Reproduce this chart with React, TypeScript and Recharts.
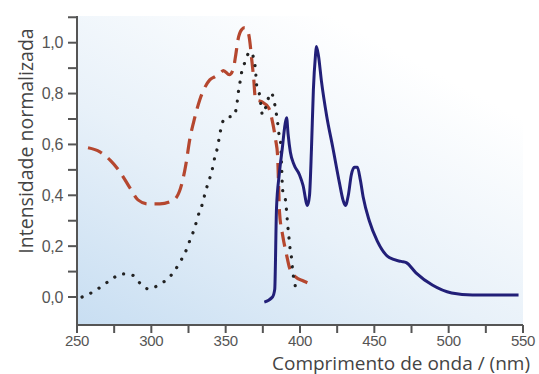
import { LineChart, Line, XAxis, YAxis, ReferenceArea } from "recharts";

// absorção (tracejado vermelho)
const absNm = [257.4, 265.4, 272.1, 278.9, 285.6, 291, 297.7, 305.7, 312.4, 317.1, 320.5, 323.2, 325.8, 329.2, 332.6, 335.9, 339.3, 342.6, 346, 348.5, 352.5, 355, 356.8, 358.3, 360.7, 362.8, 364.8, 366.1, 367.4, 368.8, 370.1, 374.2, 378.9, 381.5, 383.6, 384.9, 385.6, 386.2, 388.3, 391, 393, 397, 402.3, 407];
const absVal = [0.587, 0.571, 0.539, 0.492, 0.429, 0.382, 0.366, 0.366, 0.374, 0.394, 0.445, 0.52, 0.618, 0.705, 0.776, 0.823, 0.854, 0.866, 0.878, 0.89, 0.874, 0.894, 0.953, 1.012, 1.051, 1.059, 1.047, 1.012, 0.941, 0.862, 0.776, 0.768, 0.744, 0.689, 0.618, 0.559, 0.441, 0.335, 0.244, 0.165, 0.114, 0.079, 0.063, 0.051];

// excitação (pontilhado preto)
const excNm = [253.4, 260.7, 266.8, 273.5, 280.2, 286.9, 292.3, 298.3, 305.7, 311.7, 316.4, 320.5, 323.8, 326.5, 329.2, 331.2, 333.9, 335.9, 338, 340.6, 342.6, 344.6, 346, 348, 351.3, 354.7, 357.4, 358.1, 359.4, 360.7, 362.8, 364.8, 366.1, 368.8, 370.1, 370.8, 372.8, 374.8, 377.5, 380.2, 382.2, 383.6, 384.9, 385.6, 386.9, 387.6, 388.3, 390.2, 391, 391.6, 392.4, 393.2, 394.3, 395, 396.3, 397.7];
const excVal = [0.0, 0.02, 0.043, 0.071, 0.091, 0.087, 0.055, 0.031, 0.051, 0.075, 0.11, 0.15, 0.189, 0.232, 0.272, 0.315, 0.358, 0.402, 0.445, 0.492, 0.547, 0.591, 0.638, 0.689, 0.709, 0.709, 0.748, 0.787, 0.835, 0.882, 0.921, 0.953, 0.965, 0.941, 0.89, 0.835, 0.795, 0.717, 0.756, 0.803, 0.783, 0.736, 0.689, 0.65, 0.61, 0.52, 0.421, 0.382, 0.335, 0.291, 0.244, 0.197, 0.154, 0.106, 0.059, 0.02];

// emissão (linha azul)
const emiNm = [376, 381.5, 383, 384.2, 386, 388, 390, 391, 392, 393.5, 396, 399.7, 402, 405, 406.4, 407.7, 409, 410.4, 411, 412.4, 414.4, 418, 422, 426.5, 429, 430.5, 432.5, 434.5, 436.6, 438.6, 440.6, 442.6, 446.6, 452, 460, 468, 471.5, 478, 489, 502, 516, 547];
const emiVal = [-0.02, 0.0, 0.03, 0.35, 0.48, 0.58, 0.68, 0.705, 0.64, 0.57, 0.52, 0.48, 0.44, 0.36, 0.4, 0.58, 0.815, 0.95, 0.985, 0.95, 0.85, 0.71, 0.59, 0.45, 0.38, 0.36, 0.4, 0.48, 0.51, 0.51, 0.46, 0.39, 0.3, 0.22, 0.155, 0.14, 0.135, 0.095, 0.047, 0.016, 0.008, 0.008];

const xTicks = [250, 275, 300, 325, 350, 375, 400, 425, 450, 475, 500, 525, 550];
const yTicks = [0, 0.1, 0.2, 0.3, 0.4, 0.5, 0.6, 0.7, 0.8, 0.9, 1.0, 1.1];

const zip = (xs: number[], ys: number[]) => xs.map((x, i) => ({ nm: x, v: ys[i] }));
const absData = zip(absNm, absVal);
const excData = zip(excNm, excVal);
const emiData = zip(emiNm, emiVal);

const axisColor = "#555";
const tickStyle = { fill: "#555", fontSize: 16, fontFamily: "Liberation Sans Narrow, Liberation Sans", letterSpacing: -0.3 };
const xTickStyle = { ...tickStyle, fontSize: 15 };

export default function App() {
  return (
    <div style={{ position: "absolute", left: 0, top: 0, width: 539, height: 374, background: "#fff" }}>
      <LineChart width={539} height={374} margin={{ top: 16, right: 16, left: 37, bottom: 4 }}>
        <defs>
          <linearGradient id="fundo" x1="0" y1="1" x2="0.7" y2="0.1">
            <stop offset="0" stopColor="#c8def2" />
            <stop offset="0.5" stopColor="#e8f1f9" />
            <stop offset="1" stopColor="#ffffff" />
          </linearGradient>
        </defs>
        <XAxis
          type="number"
          dataKey="nm"
          domain={[250, 550]}
          ticks={xTicks}
          allowDataOverflow
          height={45}
          stroke={axisColor}
          strokeWidth={2}
          tickSize={8}
          tickMargin={2}
          tick={xTickStyle}
          tickFormatter={(t: number) => (t % 50 === 0 ? String(t) : "")}
        />
        <YAxis
          type="number"
          dataKey="v"
          domain={[-0.11, 1.105]}
          ticks={yTicks}
          allowDataOverflow
          width={40}
          stroke={axisColor}
          strokeWidth={2}
          tickSize={9}
          tickMargin={5}
          tick={tickStyle}
          tickFormatter={(t: number) => (Math.round(t * 10) % 2 === 0 ? t.toFixed(1).replace(".", ",") : "")}
        />
        <ReferenceArea x1={250} x2={550} y1={-0.11} y2={1.105} fill="url(#fundo)" fillOpacity={1} stroke="none" />
        <Line data={absData} dataKey="v" type="monotone" stroke="#b5472f" strokeWidth={3.2} strokeDasharray="15 8" dot={false} isAnimationActive={false} />
        <Line data={excData} dataKey="v" type="monotone" stroke="#222" strokeWidth={3.2} strokeDasharray="0.1 9.5" strokeLinecap="round" dot={false} isAnimationActive={false} />
        <Line data={emiData} dataKey="v" type="monotone" stroke="#221f78" strokeWidth={3} dot={false} isAnimationActive={false} />
      </LineChart>
      <svg width={539} height={374} style={{ position: "absolute", left: 0, top: 0, pointerEvents: "none" }}>
        <text x={530} y={369.5} textAnchor="end" fill="#444" fontSize={19} fontFamily="Open Sans">
          Comprimento de onda / (nm)
        </text>
        <text x={33} y={141} textAnchor="middle" fill="#444" fontSize={19.5} fontFamily="Open Sans" transform="rotate(-90 33 141)">
          Intensidade normalizada
        </text>
      </svg>
    </div>
  );
}
